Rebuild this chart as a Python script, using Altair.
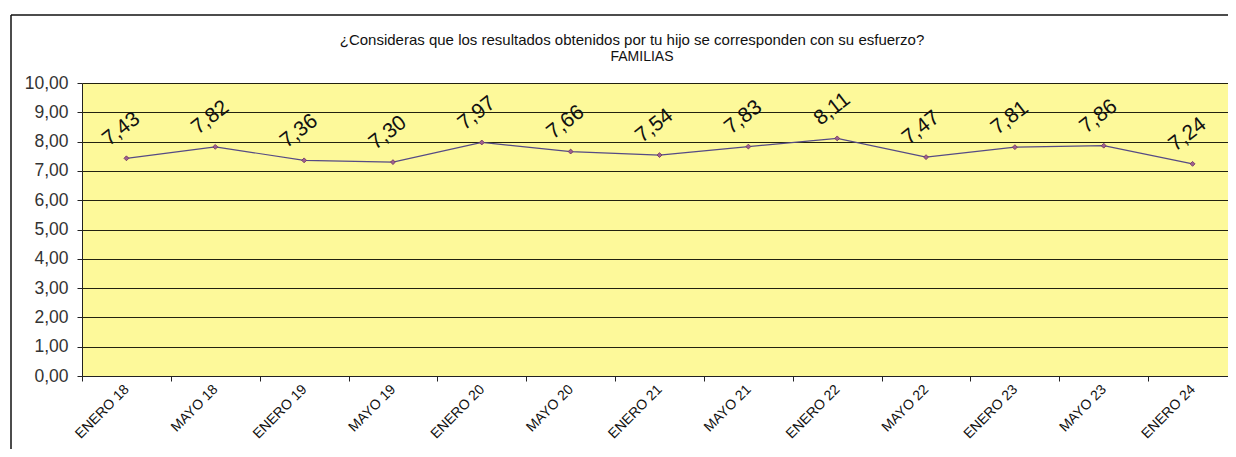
import altair as alt
import pandas as pd

categories = ["ENERO 18", "MAYO 18", "ENERO 19", "MAYO 19", "ENERO 20", "MAYO 20",
              "ENERO 21", "MAYO 21", "ENERO 22", "MAYO 22", "ENERO 23", "MAYO 23", "ENERO 24"]
values = [7.43, 7.82, 7.36, 7.30, 7.97, 7.66, 7.54, 7.83, 8.11, 7.47, 7.81, 7.86, 7.24]
y_ticks = [0, 1, 2, 3, 4, 5, 6, 7, 8, 9, 10]

title_lines = ["¿Consideras que los resultados obtenidos por tu hijo se corresponden con su esfuerzo?",
               "FAMILIAS"]

df = pd.DataFrame({"periodo": categories, "valor": values})

W, H = 1146, 293
FONT = "Liberation Sans"

xscale = alt.Scale(type="band", domain=categories, range=[0, 1155], paddingInner=0, paddingOuter=0)
yscale = alt.Scale(domain=[0, 10], nice=False)

x_enc = alt.X("periodo:N", scale=xscale, sort=categories, title=None,
              axis=alt.Axis(labelAngle=315, labelAlign="right", labelBaseline="middle",
                            labelFontSize=14, labelFont=FONT, labelColor="#111",
                            labelPadding=6, tickBand="extent", tickSize=5,
                            tickColor="#222", domainColor="#222", grid=False,
                            labelOverlap=False))
y_enc = alt.Y("valor:Q", scale=yscale, title=None,
              axis=alt.Axis(values=y_ticks, labelExpr="replace(format(datum.value, '.2f'), '.', ',')",
                            labelFontSize=17.5, labelFont=FONT, labelColor="#333",
                            labelPadding=9, tickSize=5, tickColor="#222", domainColor="#222",
                            grid=True, gridColor="#22220f", gridWidth=1.2, gridOpacity=1))

base = alt.Chart(df)

line = base.mark_line(color="#554a85", strokeWidth=1.2).encode(x=x_enc, y=y_enc)
pts = base.mark_point(shape="diamond", filled=True, size=24, color="#a06090",
                      stroke="#6a3060", strokeWidth=0.8, opacity=1).encode(x=x_enc, y=y_enc)
labels = base.transform_calculate(
    lbl="replace(format(datum.valor, '.2f'), '.', ',')"
).mark_text(angle=322, fontSize=21, font=FONT, color="#111", dx=14, dy=-26,
            align="center", baseline="middle").encode(x=x_enc, y=y_enc, text="lbl:N")

title_df = pd.DataFrame({"t": [title_lines[0]]})
sub_df = pd.DataFrame({"t": [title_lines[1]]})
title_mark = alt.Chart(title_df).mark_text(fontSize=15, font=FONT, color="#111",
                                           align="center", baseline="middle").encode(
    text="t:N", x=alt.value(550), y=alt.value(-43))
sub_mark = alt.Chart(sub_df).mark_text(fontSize=14, font=FONT, color="#111",
                                       align="center", baseline="middle").encode(
    text="t:N", x=alt.value(560), y=alt.value(-26))

border_v = alt.Chart(pd.DataFrame({"k": [0]})).mark_rule(color="#111", strokeWidth=1.5).encode(
    x=alt.value(-71), y=alt.value(-68), y2=alt.value(H + 90))
border_h = alt.Chart(pd.DataFrame({"k": [0]})).mark_rule(color="#111", strokeWidth=1.5).encode(
    x=alt.value(-71), x2=alt.value(W + 10), y=alt.value(-68))

chart = alt.layer(line, pts, labels, title_mark, sub_mark, border_v, border_h).properties(
    width=W, height=H,
    background="white",
    autosize=alt.AutoSizeParams(type="none"),
    padding={"left": 74, "top": 75, "right": 0, "bottom": 73},
).configure_view(fill="#FDF99A", strokeWidth=0)

chart.save("out.html", embed_options={"renderer": "svg", "actions": False})
